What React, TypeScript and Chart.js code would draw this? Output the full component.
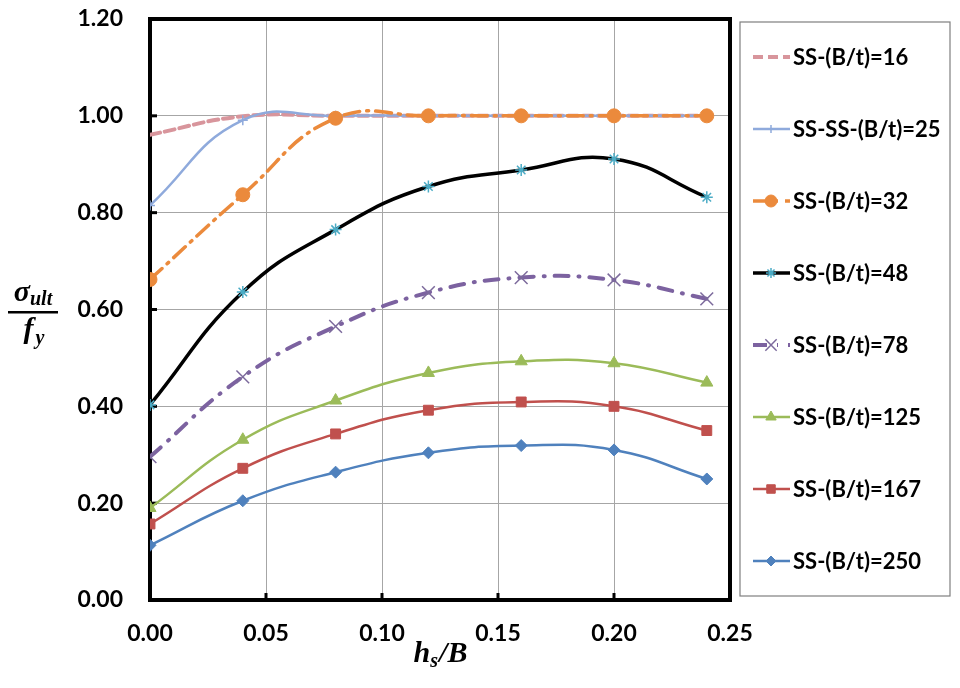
import React, { useEffect, useRef } from 'react';
import { Chart, registerables } from 'chart.js';
import { drawPoint } from 'chart.js/helpers';

Chart.register(...registerables);

// h_s/B positions
const xValues = [0, 0.04, 0.08, 0.12, 0.16, 0.2, 0.24];

// sigma_ult / f_y for each B/t
const bt16 = [0.961, 0.999, 1.0, 1.0, 1.0, 1.0, 1.0];
const bt25 = [0.815, 0.991, 1.0, 1.0, 1.0, 1.0, 1.0];
const bt32 = [0.662, 0.837, 0.995, 1.0, 1.0, 1.0, 1.0];
const bt48 = [0.403, 0.636, 0.765, 0.854, 0.888, 0.911, 0.832];
const bt78 = [0.296, 0.461, 0.565, 0.635, 0.666, 0.661, 0.622];
const bt125 = [0.19, 0.331, 0.412, 0.469, 0.493, 0.489, 0.449];
const bt167 = [0.157, 0.272, 0.343, 0.392, 0.409, 0.4, 0.35];
const bt250 = [0.113, 0.205, 0.264, 0.304, 0.319, 0.31, 0.25];

const seriesLabels = [
  'SS-(B/t)=16', 'SS-SS-(B/t)=25', 'SS-(B/t)=32', 'SS-(B/t)=48',
  'SS-(B/t)=78', 'SS-(B/t)=125', 'SS-(B/t)=167', 'SS-(B/t)=250',
];
const seriesValues = [bt16, bt25, bt32, bt48, bt78, bt125, bt167, bt250];

const xTicks = { min: 0, max: 0.25, step: 0.05 };
const yTicks = { min: 0, max: 1.2, step: 0.2 };

const FONT = 'Lato, "Open Sans", sans-serif';
const SERIF = '"Liberation Serif", "DejaVu Serif", serif';

const styles = [
  { color: '#D8959C', width: 4, dash: [10, 5], point: false, pointColor: '#D8959C', pointRadius: 0 },
  { color: '#8FAADC', width: 2.5, dash: [], point: 'cross', pointColor: '#8FAADC', pointRadius: 5 },
  { color: '#EB8A3C', width: 3.5, dash: [16, 7, 2, 7], point: 'circle', pointColor: '#EB8A3C', pointRadius: 7 },
  { color: '#000000', width: 3.5, dash: [], point: 'star', pointColor: '#4BACC6', pointRadius: 6 },
  { color: '#7C62A0', width: 4, dash: [14, 10, 1, 10], point: 'crossRot', pointColor: '#7C6A9C', pointRadius: 9 },
  { color: '#9BBB59', width: 2.5, dash: [], point: 'triangle', pointColor: '#9BBB59', pointRadius: 7 },
  { color: '#C0504D', width: 2.5, dash: [], point: 'rect', pointColor: '#C0504D', pointRadius: 7 },
  { color: '#4F81BD', width: 2.5, dash: [], point: 'rectRot', pointColor: '#4F81BD', pointRadius: 6 },
];

const framePlugin = {
  id: 'frame',
  beforeDatasetsDraw(chart: any) {
    const { ctx, chartArea: a, scales } = chart;
    ctx.save();
    ctx.strokeStyle = '#000';
    ctx.lineWidth = 3;
    // inner tick marks
    scales.y.ticks.forEach((t: any) => {
      const y = scales.y.getPixelForValue(t.value);
      ctx.beginPath();
      ctx.moveTo(a.left, y);
      ctx.lineTo(a.left + 7, y);
      ctx.stroke();
    });
    scales.x.ticks.forEach((t: any) => {
      const x = scales.x.getPixelForValue(t.value);
      ctx.beginPath();
      ctx.moveTo(x, a.bottom);
      ctx.lineTo(x, a.bottom - 7);
      ctx.stroke();
    });
    ctx.lineWidth = 4;
    ctx.strokeRect(a.left, a.top, a.right - a.left, a.bottom - a.top);
    ctx.restore();
  },
};

const decorPlugin = {
  id: 'decor',
  afterDraw(chart: any) {
    const { ctx, chartArea: a } = chart;
    ctx.save();
    // legend box
    const lx = 740, ly = 22, lw = 210, lh = 574;
    ctx.strokeStyle = '#7F7F7F';
    ctx.lineWidth = 1.2;
    ctx.strokeRect(lx, ly, lw, lh);
    chart.data.datasets.forEach((ds: any, i: number) => {
      const cy = 57 + i * 72;
      ctx.save();
      ctx.strokeStyle = ds.borderColor;
      ctx.lineWidth = ds.borderWidth;
      ctx.setLineDash(ds.borderDash || []);
      ctx.beginPath();
      ctx.moveTo(753, cy);
      ctx.lineTo(790, cy);
      ctx.stroke();
      ctx.setLineDash([]);
      if (ds.pointStyle) {
        ctx.fillStyle = ds.pointBackgroundColor;
        ctx.strokeStyle = ds.pointBorderColor;
        ctx.lineWidth = ds.pointBorderWidth;
        drawPoint(ctx, { pointStyle: ds.pointStyle, radius: ds.pointRadius - 1, rotation: 0, borderWidth: ds.pointBorderWidth }, 771, cy);
      }
      ctx.restore();
      ctx.fillStyle = '#000';
      ctx.font = `bold 22px ${FONT}`;
      ctx.textBaseline = 'middle';
      ctx.textAlign = 'left';
      ctx.fillText(ds.label, 793, cy + 1);
    });

    // x axis title: h_s / B
    ctx.fillStyle = '#000';
    ctx.textBaseline = 'alphabetic';
    const cx = (a.left + a.right) / 2;
    const big = `bold italic 30px ${SERIF}`;
    const small = `bold italic 20px ${SERIF}`;
    ctx.font = big;
    const wh = ctx.measureText('h').width;
    const wb = ctx.measureText('/B').width;
    ctx.font = small;
    const ws = ctx.measureText('s').width;
    const x0 = cx - (wh + ws + wb) / 2;
    const by = 662;
    ctx.font = big;
    ctx.fillText('h', x0, by);
    ctx.font = small;
    ctx.fillText('s', x0 + wh, by + 5);
    ctx.font = big;
    ctx.fillText('/B', x0 + wh + ws + 1, by);

    // y axis title: sigma_ult / f_y
    const fx = 33;
    ctx.font = big;
    const wsig = ctx.measureText('σ').width;
    ctx.font = small;
    const wult = ctx.measureText('ult').width;
    let sx = fx - (wsig + wult) / 2;
    ctx.font = big;
    ctx.fillText('σ', sx, 301);
    ctx.font = small;
    ctx.fillText('ult', sx + wsig, 305);
    ctx.fillRect(8, 311, 50, 2.5);
    ctx.font = big;
    const wf = ctx.measureText('f').width;
    ctx.font = small;
    const wy = ctx.measureText('y').width;
    sx = fx - (wf + wy) / 2;
    ctx.font = big;
    ctx.fillText('f', sx, 338);
    ctx.font = small;
    ctx.fillText('y', sx + wf + 2, 344);
    ctx.restore();
  },
};

const App: React.FC = () => {
  const canvasRef = useRef<HTMLCanvasElement>(null);

  useEffect(() => {
    if (!canvasRef.current) return;
    const datasets = seriesLabels.map((label, i) => {
      const s = styles[i];
      return {
        label,
        data: xValues.map((x, j) => ({ x, y: seriesValues[i][j] })),
        borderColor: s.color,
        backgroundColor: s.color,
        borderWidth: s.width,
        borderDash: s.dash,
        borderCapStyle: 'round' as const,
        pointStyle: s.point,
        pointRadius: s.pointRadius,
        pointBackgroundColor: s.pointColor,
        pointBorderColor: s.pointColor,
        pointBorderWidth: s.point === 'star' || s.point === 'crossRot' || s.point === 'cross' ? 1.5 : 1,
        tension: 0.45,
        fill: false,
        order: 10 - i,
      };
    });

    const chart = new Chart(canvasRef.current, {
      type: 'line',
      data: { datasets },
      options: {
        animation: false,
        responsive: true,
        maintainAspectRatio: false,
        layout: { autoPadding: false, padding: { top: 19, right: 230, left: 0, bottom: 0 } },
        plugins: { legend: { display: false }, tooltip: { enabled: false } },
        scales: {
          x: {
            type: 'linear',
            min: xTicks.min,
            max: xTicks.max,
            afterFit: (scale: any) => {
              scale.height = 88;
              scale.paddingLeft = 0;
              scale.paddingRight = 0;
            },
            grid: { color: '#A6A6A6', lineWidth: 1, drawTicks: false },
            border: { display: false },
            ticks: {
              stepSize: xTicks.step,
              padding: 20,
              color: '#000',
              font: { family: FONT, weight: 'bold', size: 23 },
              callback: (v: any) => Number(v).toFixed(2),
            },
          },
          y: {
            min: yTicks.min,
            max: yTicks.max,
            afterFit: (scale: any) => {
              scale.width = 150;
              scale.paddingTop = 0;
              scale.paddingBottom = 0;
            },
            grid: { color: '#A6A6A6', lineWidth: 1, drawTicks: false },
            border: { display: false },
            ticks: {
              stepSize: yTicks.step,
              padding: 27,
              color: '#000',
              font: { family: FONT, weight: 'bold', size: 23 },
              callback: (v: any) => Number(v).toFixed(2),
            },
          },
        },
      },
      plugins: [framePlugin, decorPlugin],
    });

    return () => chart.destroy();
  }, []);

  return (
    <div style={{ position: 'fixed', left: 0, top: 0, width: 960, height: 688, background: '#fff' }}>
      <canvas ref={canvasRef}></canvas>
    </div>
  );
};

export default App;
